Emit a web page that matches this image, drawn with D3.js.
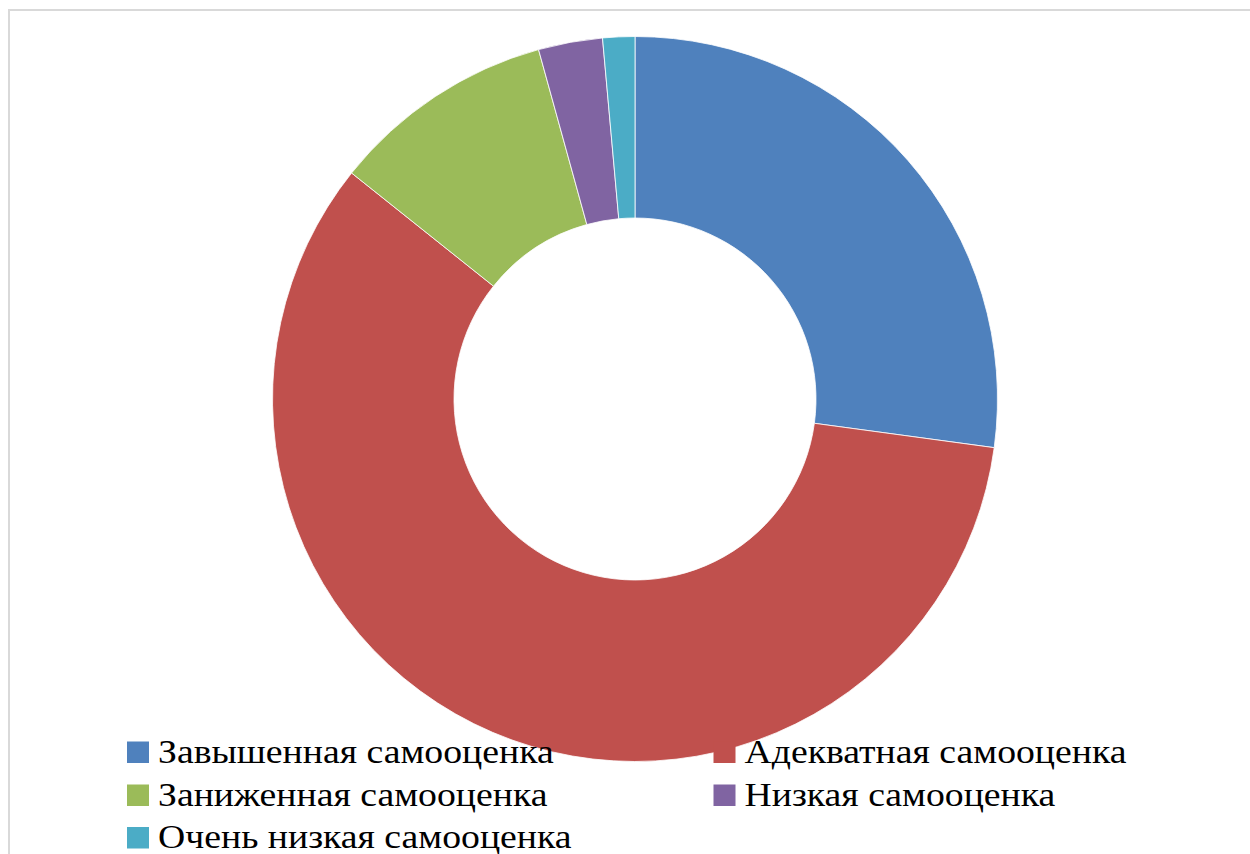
<!DOCTYPE html>
<html><head><meta charset="utf-8">
<script src="https://cdn.jsdelivr.net/npm/d3@7"></script>
<style>html,body{margin:0;padding:0;background:#fff;}svg{display:block;}</style>
</head><body>
<svg id="c" width="1250" height="854"></svg>
<script>
const categories = ["Завышенная самооценка","Адекватная самооценка","Заниженная самооценка","Низкая самооценка","Очень низкая самооценка"];
const values = [19, 41, 7, 2, 1];
const colors = ["#4F81BD","#C0504D","#9BBB59","#8064A2","#4BACC6"];

const svg = d3.select("#c");
svg.append("rect").attr("x",9).attr("y",10).attr("width",1260).attr("height",870)
  .attr("fill","#fff").attr("stroke","#d9d9d9").attr("stroke-width",2);

const cx = 635, cy = 399, R = 362.5, r = 181;
const pie = d3.pie().sort(null).value(d=>d)(values);
const arc = d3.arc().innerRadius(r).outerRadius(R);
const color = d3.scaleOrdinal().domain(categories).range(colors);
svg.append("g").attr("transform",`translate(${cx},${cy})`)
  .selectAll("path").data(pie).join("path")
  .attr("d",arc).attr("fill",(d,i)=>color(categories[i]))
  .attr("stroke","#fff").attr("stroke-width",0.8);

const leg = svg.append("g");
const colX = [127, 713.5], rowY = [741.5, 784.5, 827];
categories.forEach((c,i)=>{
  const x = colX[i%2], y = rowY[Math.floor(i/2)];
  const g = leg.append("g").attr("transform",`translate(${x},${y})`);
  g.append("rect").attr("width",22).attr("height",21.5).attr("fill",color(c));
  g.append("text").attr("transform","translate(31,21) scale(1.11,1)")
    .attr("font-family","'Liberation Serif', 'Times New Roman', serif")
    .attr("font-size",34).attr("fill","#000").text(c);
});
</script>
</body></html>
